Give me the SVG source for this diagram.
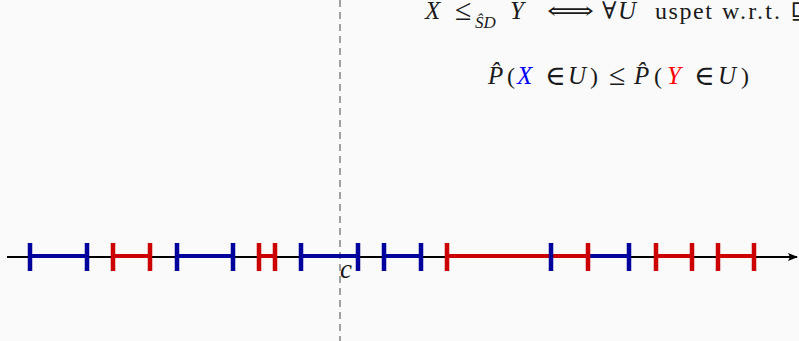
<svg xmlns="http://www.w3.org/2000/svg" width="799" height="341" viewBox="0 0 799 341">
<defs>
<style>
.bl{stroke:#00009c;stroke-width:4;fill:none}
.rd{stroke:#cc0000;stroke-width:4;fill:none}
.tk{stroke-width:4.5}
</style>
<marker id="ah" markerWidth="10" markerHeight="8" refX="9" refY="4" orient="auto" markerUnits="userSpaceOnUse">
<path d="M0,0 L10,4 L0,8 L2,4 Z" fill="#000"/>
</marker>
</defs>
<rect width="799" height="341" fill="#fafafa"/>
<g id="connectors">
<line x1="340" y1="0" x2="340" y2="341" stroke="#a0a0a0" stroke-width="2" stroke-dasharray="7,5"/>
<line x1="7" y1="257" x2="797" y2="257" stroke="#000" stroke-width="2" marker-end="url(#ah)"/>
</g>
<g id="text-top" font-family="Liberation Serif, DejaVu Serif, serif" font-size="24" fill="#1a1a1a">
<text font-style="italic" x="425" y="19" font-size="25">X</text>
<text x="455" y="20" font-size="30">≤</text>
<text font-style="italic" font-size="17" x="475" y="28">S&#x302;D</text>
<text font-style="italic" x="510" y="19" font-size="25">Y</text>
<text x="547" y="19" textLength="47" lengthAdjust="spacingAndGlyphs">⟺</text>
<text x="602" y="19">∀</text>
<text font-style="italic" x="618" y="19" font-size="25">U</text>
<text x="655" y="19" textLength="57">uspet</text>
<text x="722" y="19" textLength="58">w.r.t.</text>
<text x="790" y="19">⊑</text>
</g>
<g id="text-prob" font-family="Liberation Serif, DejaVu Serif, serif" font-size="24" fill="#1a1a1a">
<text font-style="italic" x="488" y="84" font-size="25">P&#x302;</text>
<text x="507" y="84">(</text>
<text font-style="italic" x="517" y="84" fill="#0000ff" font-size="25">X</text>
<text x="545" y="85" font-size="28">∈</text>
<text font-style="italic" x="568" y="84" font-size="25">U</text>
<text x="590" y="84">)</text>
<text x="609" y="85" font-size="30">≤</text>
<text font-style="italic" x="634" y="84" font-size="25">P&#x302;</text>
<text x="654" y="84">(</text>
<text font-style="italic" x="667" y="84" fill="#ff0000" font-size="25">Y</text>
<text x="694" y="85" font-size="28">∈</text>
<text font-style="italic" x="718" y="84" font-size="25">U</text>
<text x="741" y="84">)</text>
</g>
<g id="intervals-lines">
<g id="b1"><line class="bl" x1="30" y1="256" x2="87" y2="256"/></g>
<g id="b2"><line class="bl" x1="177" y1="256" x2="233" y2="256"/></g>
<g id="b3"><line class="bl" x1="301" y1="256" x2="358" y2="256"/></g>
<g id="b4"><line class="bl" x1="384" y1="256" x2="421" y2="256"/></g>
<g id="b5"><line class="bl" x1="551" y1="256" x2="629" y2="256"/></g>
<g id="r1"><line class="rd" x1="113" y1="256" x2="150" y2="256"/></g>
<g id="r2"><line class="rd" x1="259" y1="256" x2="275" y2="256"/></g>
<g id="r3"><line class="rd" x1="447" y1="256" x2="588" y2="256"/></g>
<g id="r4"><line class="rd" x1="656" y1="256" x2="692" y2="256"/></g>
<g id="r5"><line class="rd" x1="718" y1="256" x2="754" y2="256"/></g>
</g>
<g id="ticks">
<path class="bl tk" d="M30,243V271M87,243V271M177,243V271M233,243V271M301,243V271M358,243V271M384,243V271M421,243V271M551,243V271M629,243V271"/>
<path class="rd tk" d="M113,243V271M150,243V271M259,243V271M275,243V271M447,243V271M588,243V271M656,243V271M692,243V271M718,243V271M754,243V271"/>
</g>
<g id="label-c">
<text font-family="Liberation Serif, DejaVu Serif, serif" font-style="italic" font-size="27" fill="#1a1a1a" x="340" y="278">c</text>
</g>
</svg>
